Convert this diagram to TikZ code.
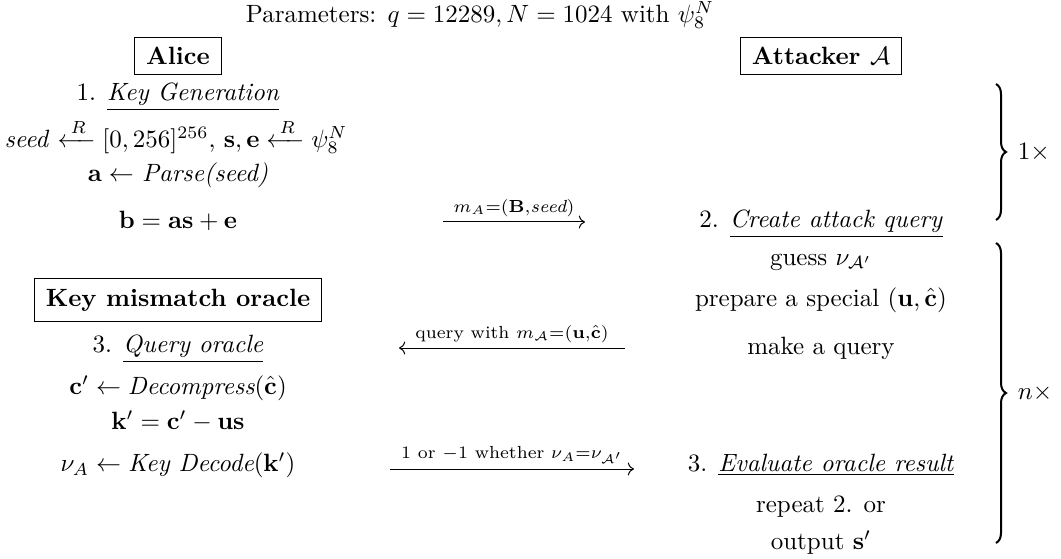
\documentclass[tikz,border=0pt]{standalone}
\usepackage{amsmath,amssymb}
\usetikzlibrary{arrows.meta,positioning,calc,decorations.pathreplacing}

\begin{document}
\begin{tikzpicture}[x=0.4pt, y=-0.4pt,
    party/.style={draw, font=\bfseries, inner xsep=4.5pt, inner ysep=4pt},
    msg/.style={-{To}},
    lbl/.style={font=\scriptsize, above, inner sep=2pt},
    rep/.style={decorate, decoration={brace, amplitude=4pt}, thick}
  ]
  \useasboundingbox (0,0) rectangle (1061,559);
  \node (par) at (480,15) {Parameters: $q=12289, N=1024$ with $\psi_8^N$};
  \node[party] (alice) at (178,56) {Alice};
  \node[party] (att) at (821,56) {Attacker $\mathcal{A}$};
  % Alice side
  \node (kg) at (178,97) {1. \underline{\textit{Key Generation}}};
  \node (seed) at (176,136) {\textit{seed} $\xleftarrow{\,R\,} [0,256]^{256}$, $\mathbf{s},\mathbf{e} \xleftarrow{\,R\,} \psi_8^N$};
  \node (parse) at (178,175) {$\mathbf{a} \leftarrow$ \textit{Parse(seed)}};
  \node (bval) at (178,221) {$\mathbf{b} = \mathbf{a}\mathbf{s} + \mathbf{e}$};
  \node[party] (orc) at (178,300) {Key mismatch oracle};
  \node (qo) at (178,349) {3. \underline{\textit{Query oracle}}};
  \node (dec) at (178,388) {$\mathbf{c}' \leftarrow \textit{Decompress}(\hat{\mathbf{c}})$};
  \node (kval) at (178,421) {$\mathbf{k}' = \mathbf{c}' - \mathbf{u}\mathbf{s}$};
  \node (kdec) at (178,465) {$\nu_A \leftarrow \textit{Key Decode}(\mathbf{k}')$};
  % attacker side
  \node (caq) at (821,224) {2. \underline{\textit{Create attack query}}};
  \node (guess) at (821,262) {guess $\nu_{\mathcal{A}'}$};
  \node (prep) at (821,300) {prepare a special $(\mathbf{u},\hat{\mathbf{c}})$};
  \node (mkq) at (821,348) {make a query};
  \node (eval) at (821,465) {3. \underline{\textit{Evaluate oracle result}}};
  \node (rpt) at (821,507) {repeat 2. or};
  \node (out) at (821,543) {output $\mathbf{s}'$};
  % messages
  \coordinate (m1s) at (443,222);
  \coordinate (m1e) at (585,222);
  \coordinate (m2s) at (625,348);
  \coordinate (m2e) at (399,348);
  \coordinate (m3s) at (390,469);
  \coordinate (m3e) at (634,469);
  \draw[msg] (m1s) -- node[lbl] {$m_A{=}(\mathbf{B}{,}\textit{seed})$} (m1e);
  \draw[msg] (m2s) -- node[lbl] {query with $m_{\mathcal{A}}{=}(\mathbf{u}{,}\hat{\mathbf{c}})$} (m2e);
  \draw[msg] (m3s) -- node[lbl] {1 or $-1$ whether $\nu_A{=}\nu_{\mathcal{A}'}$} (m3e);
  % repetitions
  \coordinate (b1t) at (996,84);
  \coordinate (b1b) at (996,220);
  \coordinate (b2t) at (996,243);
  \coordinate (b2b) at (996,543);
  \draw[rep] (b1t) -- node[right=5pt] (once) {$1\times$} (b1b);
  \draw[rep] (b2t) -- node[right=5pt] (many) {$n\times$} (b2b);
\end{tikzpicture}
\end{document}
